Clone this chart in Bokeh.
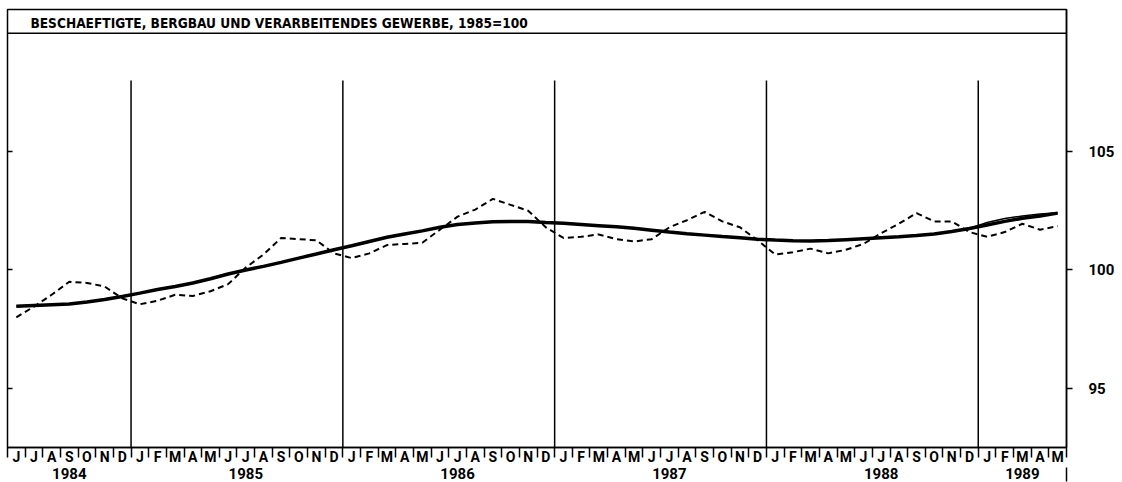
from bokeh.plotting import figure
from bokeh.models import Range1d, LinearAxis, FixedTicker, Span, Label
from bokeh.embed import file_html
from bokeh.resources import INLINE

title_text = "BESCHAEFTIGTE, BERGBAU UND VERARBEITENDES GEWERBE, 1985=100"

# months from June 1984 to May 1989
month_letters = (["J", "J", "A", "S", "O", "N", "D"]
                 + ["J", "F", "M", "A", "M", "J", "J", "A", "S", "O", "N", "D"] * 4
                 + ["J", "F", "M", "A", "M"])
years = ["1984", "1985", "1986", "1987", "1988", "1989"]

# original values (dashed)
actual = [
    98.0, 98.45, 98.95, 99.5, 99.45, 99.3, 98.8,
    98.55, 98.7, 98.95, 98.9, 99.1, 99.4, 100.1, 100.65, 101.35, 101.3, 101.25, 100.7,
    100.5, 100.7, 101.05, 101.1, 101.15, 101.7, 102.25, 102.55, 103.0, 102.75, 102.5, 101.8,
    101.35, 101.4, 101.5, 101.3, 101.2, 101.3, 101.8, 102.1, 102.45, 102.05, 101.8, 101.25,
    100.65, 100.75, 100.9, 100.7, 100.85, 101.1, 101.55, 101.95, 102.4, 102.05, 102.05, 101.6,
    101.4, 101.6, 101.95, 101.7, 101.85,
]
# trend (thick line)
trend = [
    98.47, 98.5, 98.53, 98.56, 98.65, 98.75, 98.88,
    99.02, 99.17, 99.3, 99.45, 99.63, 99.83, 100.0, 100.15, 100.32, 100.5, 100.67, 100.85,
    101.02, 101.2, 101.38, 101.52, 101.65, 101.8, 101.92, 101.98, 102.03, 102.05, 102.05, 102.0,
    101.97, 101.92, 101.87, 101.82, 101.76, 101.68, 101.6, 101.53, 101.47, 101.41, 101.36, 101.3,
    101.26, 101.23, 101.22, 101.24, 101.28, 101.32, 101.36, 101.4, 101.45, 101.52, 101.62, 101.75,
    101.9, 102.05, 102.18, 102.28, 102.4,
]
# second (thin) trend line, differs only at the end
trend_thin = trend[:55] + [102.0, 102.17, 102.28, 102.36, 102.42]

y_ticks = [95, 100, 105]

FONT = "Roboto"
TITLE_FONT = "DejaVu Sans Condensed"

n = len(month_letters)
xs = list(range(n))
year_starts = [0] + [i for i in range(1, n) if month_letters[i - 1] == "D"]
bounds = year_starts + [n]
year_centers = []
for k in range(len(years)):
    first, last = bounds[k], bounds[k + 1] - 1
    if last - first == 11:
        year_centers.append(first + 6)          # full year: under July
    else:
        year_centers.append((first + last) / 2)  # partial year: middle of shown months

p = figure(width=1122, height=482, output_backend="svg", toolbar_location=None,
           x_range=Range1d(-0.5, n - 0.5), y_range=Range1d(92.5, 111.0),
           x_axis_location=None, y_axis_location=None,
           min_border_left=7, min_border_right=56, min_border_top=9, min_border_bottom=35)
p.grid.visible = False
p.outline_line_color = "black"
p.outline_line_width = 1.5
p.outline_line_alpha = 1.0
p.background_fill_color = "white"
p.border_fill_color = "white"

# month axis
xa = LinearAxis(ticker=FixedTicker(ticks=xs, minor_ticks=[i - 0.5 for i in range(n + 1)]),
                major_label_overrides={i: m for i, m in enumerate(month_letters)},
                major_tick_out=0, major_tick_in=0,
                minor_tick_out=10, minor_tick_in=0, minor_tick_line_width=1.5,
                axis_line_width=1.5, major_label_standoff=-9,
                major_label_text_font=FONT, major_label_text_font_style="bold",
                major_label_text_font_size="14px", major_label_text_color="black")
p.add_layout(xa, "below")

# year axis (below the month row)
ya_years = LinearAxis(ticker=FixedTicker(ticks=year_centers, minor_ticks=[n - 0.5]),
                      major_label_overrides={c: y for c, y in zip(year_centers, years)},
                      major_tick_out=0, major_tick_in=0,
                      minor_tick_out=14, minor_tick_in=0, minor_tick_line_width=1.5,
                      axis_line_color=None, major_label_standoff=-14,
                      major_label_text_font=FONT, major_label_text_font_style="bold",
                      major_label_text_font_size="15px", major_label_text_color="black")
p.add_layout(ya_years, "below")

# right value axis
ya = LinearAxis(ticker=FixedTicker(ticks=y_ticks, minor_ticks=[]),
                major_tick_out=6, major_tick_in=0, minor_tick_out=0, minor_tick_in=0,
                axis_line_width=1.5, major_tick_line_width=1.5, major_label_standoff=16,
                major_label_text_font=FONT, major_label_text_font_style="bold",
                major_label_text_font_size="15px", major_label_text_color="black")
p.add_layout(ya, "right")

# left ticks (no labels)
la = LinearAxis(ticker=FixedTicker(ticks=y_ticks, minor_ticks=[]),
                major_tick_out=0, major_tick_in=5, minor_tick_out=0, minor_tick_in=0,
                axis_line_color=None, major_tick_line_width=1.5,
                major_label_overrides={t: "" for t in y_ticks},
                major_label_standoff=0, major_label_text_font_size="1px")
p.add_layout(la, "left")

# title box
p.add_layout(Span(location=110.0, dimension="width", line_color="black", line_width=1.5))
p.add_layout(Label(x=0.8, y=110.42, text=title_text, text_baseline="middle",
                   text_font=TITLE_FONT, text_font_style="bold", text_font_size="13.6px",
                   text_color="black"))

# year separators
sep_x = [s - 0.5 for s in year_starts[1:]]
p.segment(x0=sep_x, y0=[92.5] * len(sep_x), x1=sep_x, y1=[108.0] * len(sep_x),
          line_color="black", line_width=1.5)

# series
p.line(xs, actual, line_color="black", line_width=2, line_dash="6 4")
p.line(xs, trend, line_color="black", line_width=3.5)
p.line(xs, trend_thin, line_color="black", line_width=1.5)

open("out.html", "w").write(file_html(p, INLINE))
